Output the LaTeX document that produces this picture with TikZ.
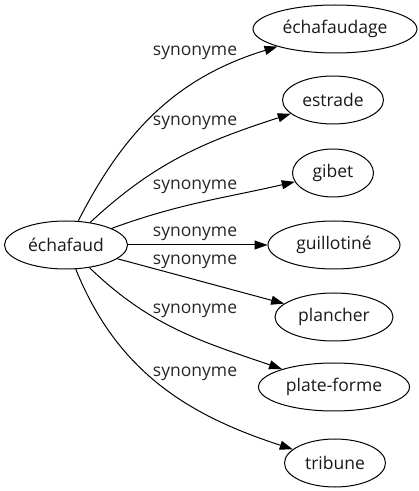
\documentclass[tikz,border=0pt]{standalone}
\usepackage{fontspec}
\setmainfont{Open Sans}
\usetikzlibrary{shapes.geometric,arrows.meta}

\tikzset{
  mot/.style={ellipse,draw,line width=1pt,minimum height=48pt,inner sep=0pt,
    font=\fontsize{17.5}{20}\selectfont,text=black!90},
  lien/.style={->,line width=1pt},
  rel/.style={font=\fontsize{17.5}{20}\selectfont,text=black!85,inner sep=0pt}
}

\begin{document}
\begin{tikzpicture}[x=1pt,y=1pt,>={Triangle[length=13pt,width=9pt]}]
  \useasboundingbox (0,0) rectangle (419,491);
  % centre
  \node[mot,minimum width=123pt] (echafaud) at (66,246) {échafaud};
  % synonymes
  \node[mot,minimum width=164pt] (echafaudage) at (335,462) {échafaudage};
  \node[mot,minimum width=101pt] (estrade)     at (333,391) {estrade};
  \node[mot,minimum width=81pt]  (gibet)       at (333,318) {gibet};
  \node[mot,minimum width=132pt] (guillotine)  at (334,246) {guillotiné};
  \node[mot,minimum width=118pt] (plancher)    at (334,174) {plancher};
  \node[mot,minimum width=151pt] (plateforme)  at (334,104) {plate-forme};
  \node[mot,minimum width=101pt] (tribune)     at (335,28)  {tribune};
  % aretes
  \draw[lien] (echafaud) to[out=63,in=197]  (echafaudage);
  \draw[lien] (echafaud) to[out=43,in=198]  (estrade);
  \draw[lien] (echafaud) to[out=20,in=193]  (gibet);
  \draw[lien] (echafaud) --                 (guillotine);
  \draw[lien] (echafaud) to[out=-15,in=165] (plancher);
  \draw[lien] (echafaud) to[out=-44,in=161] (plateforme);
  \draw[lien] (echafaud) to[out=-68,in=162] (tribune);
  % etiquettes
  \node[rel] (r1) at (195,438) {synonyme};
  \node[rel] (r2) at (195,368) {synonyme};
  \node[rel] (r3) at (195,304) {synonyme};
  \node[rel] (r4) at (195,257) {synonyme};
  \node[rel] (r5) at (195,229) {synonyme};
  \node[rel] (r6) at (195,180) {synonyme};
  \node[rel] (r7) at (195,117) {synonyme};
\end{tikzpicture}
\end{document}
